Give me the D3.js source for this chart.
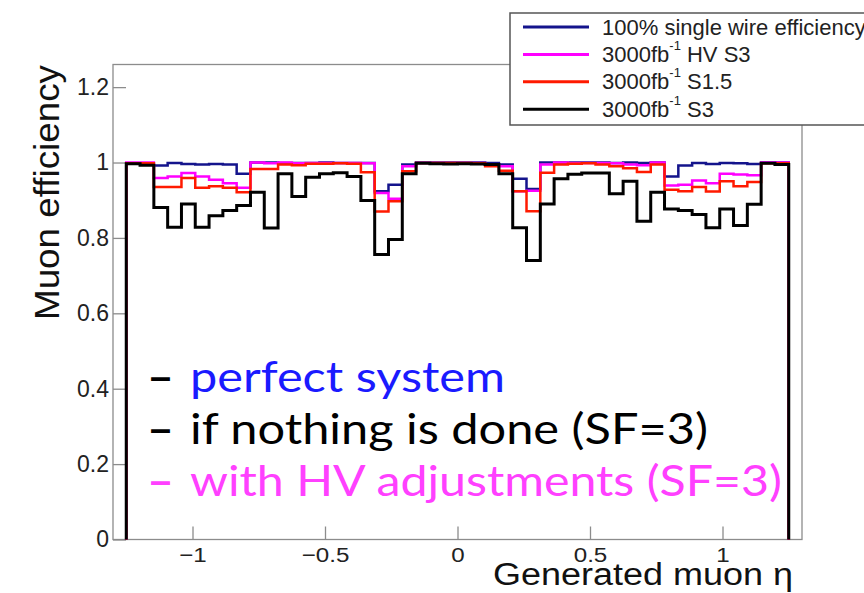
<!DOCTYPE html>
<html>
<head>
<meta charset="utf-8">
<script src="https://d3js.org/d3.v7.min.js"></script>
<style>
  body { margin: 0; background: #fff; }
</style>
</head>
<body>
<script>
var width = 864,
    height = 593

// binning of the histograms (eta)
var etaMin = -1.25, etaMax = 1.25, nBins = 48
var edges = d3.range(nBins + 1).map(function(i) { return etaMin + i * (etaMax - etaMin) / nBins })

// efficiencies per bin
var effPerfect = [0.998, 0.998, 0.992, 0.999, 0.996, 0.995, 0.996, 0.995, 0.970, 1.000, 1.000, 0.999,
                  0.999, 0.999, 1.000, 0.999, 0.999, 0.999, 0.924, 0.941, 0.995, 1.000, 1.000, 1.000,
                  1.000, 1.000, 0.999, 0.995, 0.957, 0.930, 1.000, 1.000, 1.000, 1.000, 1.000, 0.999,
                  1.000, 0.999, 1.000, 0.963, 0.992, 0.999, 0.996, 0.999, 0.998, 0.996, 1.000, 1.000]
var effHVS3    = [1.000, 1.000, 0.959, 0.963, 0.972, 0.963, 0.954, 0.945, 0.933, 1.000, 0.998, 1.000,
                  0.998, 0.999, 0.999, 0.999, 0.999, 0.998, 0.919, 0.904, 0.990, 0.999, 0.999, 0.999,
                  0.999, 0.999, 0.995, 0.990, 0.924, 0.925, 0.995, 1.000, 0.999, 0.999, 0.999, 0.998,
                  0.995, 0.993, 1.000, 0.939, 0.941, 0.952, 0.945, 0.970, 0.968, 0.966, 1.000, 1.000]
var effS15     = [0.998, 0.998, 0.935, 0.935, 0.959, 0.933, 0.937, 0.933, 0.921, 0.983, 0.983, 0.995,
                  0.993, 0.997, 0.997, 0.998, 0.997, 0.974, 0.870, 0.897, 0.977, 0.999, 0.999, 0.999,
                  0.999, 0.998, 0.990, 0.978, 0.924, 0.871, 0.973, 0.995, 0.997, 0.998, 0.995, 0.990,
                  0.985, 0.975, 0.995, 0.928, 0.924, 0.935, 0.923, 0.950, 0.937, 0.948, 0.998, 0.998]
var effS3      = [0.997, 0.993, 0.881, 0.828, 0.890, 0.828, 0.859, 0.873, 0.886, 0.921, 0.826, 0.970,
                  0.910, 0.961, 0.970, 0.973, 0.963, 0.899, 0.756, 0.796, 0.970, 0.998, 0.997, 0.996,
                  0.997, 0.996, 0.995, 0.970, 0.827, 0.740, 0.890, 0.957, 0.969, 0.972, 0.972, 0.917,
                  0.950, 0.844, 0.921, 0.877, 0.873, 0.862, 0.827, 0.877, 0.833, 0.889, 0.998, 0.995]

var seriesNames  = ['100% single wire efficiency', 'HV S3', 'S1.5', 'S3']
var seriesColors = ['#14148c', '#ff00ff', '#ff1a00', '#000000']
var seriesData   = [effPerfect, effHVS3, effS15, effS3]

var xTicks = [-1, -0.5, 0, 0.5, 1]
var yTicks = [0, 0.2, 0.4, 0.6, 0.8, 1, 1.2]

var notes = ['perfect system', 'if nothing is done (SF=3)', 'with HV adjustments (SF=3)']
var noteColors = ['#1a1aff', '#000000', '#ff40ff']
var dashColors = ['#000000', '#000000', '#ff40ff']

var rootFont = '"Liberation Sans", Arial, sans-serif'
var slideFont = 'Lato, "Open Sans", sans-serif'

var svg = d3.select('body')
  .append('svg')
  .attr('width', width)
  .attr('height', height)
  .style('font-family', rootFont)

svg.append('rect').attr('width', width).attr('height', height).attr('fill', '#fff')

var x = d3.scaleLinear().domain([-1.3, 1.3]).range([113, 802])
var y = d3.scaleLinear().domain([0, 1.26]).range([539.5, 64.5])

// frame
svg.append('rect')
  .attr('x', x(-1.3)).attr('y', y(1.26))
  .attr('width', x(1.3) - x(-1.3)).attr('height', y(0) - y(1.26))
  .attr('fill', 'none').attr('stroke', '#8c8c8c').attr('stroke-width', 1.3)

// x axis: major + minor ticks pointing inwards
var fmt = d3.format('~g')
var gx = svg.append('g').attr('transform', 'translate(0,' + y(0) + ')')
gx.call(d3.axisBottom(x).tickValues(d3.range(-12, 13).map(function(d) { return d / 10 }))
    .tickSize(-6).tickFormat(''))
gx.call(d3.axisBottom(x).tickValues(xTicks).tickSizeInner(-13).tickSizeOuter(0)
    .tickPadding(8).tickFormat(fmt))
gx.attr('font-family', null)
gx.select('.domain').remove()
gx.selectAll('line').attr('stroke', '#8c8c8c').attr('stroke-width', 1.3)
gx.selectAll('text').attr('font-size', 21).attr('fill', '#222')
  .style('font-family', rootFont)
  .attr('transform', 'scale(1.15,1)')

// y axis
var gy = svg.append('g').attr('transform', 'translate(' + x(-1.3) + ',0)')
gy.call(d3.axisLeft(y).tickValues(d3.range(0, 26).map(function(d) { return d * 0.05 }))
    .tickSize(-8).tickFormat(''))
gy.call(d3.axisLeft(y).tickValues(yTicks).tickSizeInner(-13).tickSizeOuter(0)
    .tickPadding(4).tickFormat(fmt))
gy.attr('font-family', null)
gy.select('.domain').remove()
gy.selectAll('line').attr('stroke', '#8c8c8c').attr('stroke-width', 1.3)
gy.selectAll('text').attr('font-size', 23).attr('fill', '#222')
  .style('font-family', rootFont)

// histograms
var line = d3.line()
  .x(function(d) { return x(d[0]) })
  .y(function(d) { return y(d[1]) })
  .curve(d3.curveStepAfter)

seriesData.forEach(function(vals, s) {
  var pts = [[edges[0], 0]]
  vals.forEach(function(v, i) { pts.push([edges[i], v]) })
  pts.push([edges[nBins], vals[nBins - 1]])
  pts.push([edges[nBins], 0])
  svg.append('path')
    .attr('d', line(pts))
    .attr('fill', 'none')
    .attr('stroke', seriesColors[s])
    .attr('stroke-width', s === 3 ? 3 : 2.5)
})

// axis titles
svg.append('text')
  .attr('transform', 'translate(59,320) rotate(-90)')
  .attr('font-size', 35).attr('textLength', 255).attr('lengthAdjust', 'spacingAndGlyphs')
  .attr('fill', '#111')
  .text('Muon efficiency')

svg.append('text')
  .attr('x', 493).attr('y', 585)
  .attr('font-size', 31).attr('textLength', 300).attr('lengthAdjust', 'spacingAndGlyphs')
  .attr('fill', '#111')
  .text('Generated muon η')

// legend
var lg = svg.append('g')
lg.append('rect')
  .attr('x', 510).attr('y', 13).attr('width', 380).attr('height', 112)
  .attr('fill', '#fff').attr('stroke', '#555').attr('stroke-width', 1.5)
seriesNames.forEach(function(name, i) {
  var ly = 27 + i * 27.4
  lg.append('line')
    .attr('x1', 523).attr('x2', 589).attr('y1', ly).attr('y2', ly)
    .attr('stroke', seriesColors[i]).attr('stroke-width', 3)
  var t = lg.append('text').attr('x', 602).attr('y', ly + 7.5)
    .attr('font-size', 22).attr('fill', '#222')
  if (i === 0) {
    t.text(name)
  } else {
    t.append('tspan').text('3000fb')
    t.append('tspan').attr('font-size', 13).attr('dy', -12).text('-1')
    t.append('tspan').attr('dy', 12).text(' ' + name)
  }
})

// annotations
notes.forEach(function(txt, i) {
  var by = 392 + i * 52
  svg.append('text')
    .attr('x', 147).attr('y', by)
    .style('font-family', slideFont).attr('font-size', 42).attr('font-weight', 700)
    .attr('textLength', 27).attr('lengthAdjust', 'spacingAndGlyphs')
    .attr('fill', dashColors[i])
    .text('–')
  svg.append('text')
    .attr('x', 190).attr('y', by)
    .style('font-family', slideFont).attr('font-size', 42)
    .attr('textLength', [315, 518, 592][i]).attr('lengthAdjust', 'spacingAndGlyphs')
    .attr('fill', noteColors[i])
    .text(txt)
})
</script>
</body>
</html>
